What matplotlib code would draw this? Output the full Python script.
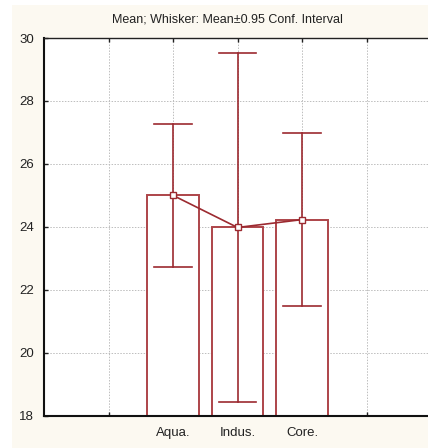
import matplotlib
matplotlib.use('Agg')
import matplotlib.pyplot as plt
from matplotlib.patches import Rectangle

# Mean and 0.95 confidence interval half-width per group
groups = ['Aqua.', 'Indus.', 'Core.']
means = [25.0, 23.98, 24.23]
ci_half = [2.27, 5.55, 2.75]

positions = [2, 3, 4]
dark_red = '#9c2a30'
bar_edge = '#ad4449'

plt.rcParams['font.family'] = ['Liberation Sans', 'DejaVu Sans']

fig = plt.figure(figsize=(4.28, 4.48), dpi=100)
fig.patch.set_facecolor('white')
# cream panel behind the plot
fig.patches.append(Rectangle((12 / 428, 0), 1 - 12 / 428, 443 / 448,
                             transform=fig.transFigure, facecolor='#fcf9f1',
                             edgecolor='none', zorder=-5))

ax = fig.add_axes([44 / 428, 32.3 / 448, 1 - 44 / 428, 377.7 / 448])
ax.set_facecolor('white')

ax.bar(positions, [m - 18 for m in means], bottom=18, width=0.8,
       facecolor='white', edgecolor=bar_edge, linewidth=1.4, zorder=2)

for x, m, h in zip(positions, means, ci_half):
    ax.plot([x, x], [m - h, m + h], color=dark_red, lw=1.2, zorder=3)
    ax.plot([x - 0.29, x + 0.29], [m + h, m + h], color=dark_red, lw=1.2, zorder=3)
    ax.plot([x - 0.29, x + 0.29], [m - h, m - h], color=dark_red, lw=1.2, zorder=3)

ax.plot(positions, means, color=dark_red, lw=1.2, marker='s', markersize=5,
        markerfacecolor='white', markeredgecolor=dark_red, markeredgewidth=1.0, zorder=4)

ax.set_xlim(0, 384 / 64.5)
ax.set_ylim(18, 30)
ax.set_yticks(range(18, 31, 2))
ax.set_xticks([1, 2, 3, 4, 5])
ax.set_xticklabels([''] + groups + [''])

ax.grid(True, color='#bdbdbd', linestyle=(0, (1.5, 1.5)), linewidth=0.7, zorder=1)
ax.set_axisbelow(True)

ax.tick_params(direction='in', length=3, width=1, colors='#222222',
               labelsize=9.5, top=True, pad=7)
ax.tick_params(axis='x', pad=8)
for side in ['left', 'bottom']:
    ax.spines[side].set_linewidth(1.5)
    ax.spines[side].set_color('#111111')
ax.spines['top'].set_linewidth(1.0)
ax.spines['top'].set_color('#222222')
ax.spines['right'].set_visible(False)

fig.text(227 / 428, 1 - 19 / 448, 'Mean; Whisker: Mean±0.95 Conf. Interval',
         ha='center', va='center', fontsize=9, color='#222222')

fig.savefig('out.png', dpi=100, facecolor=fig.get_facecolor())
